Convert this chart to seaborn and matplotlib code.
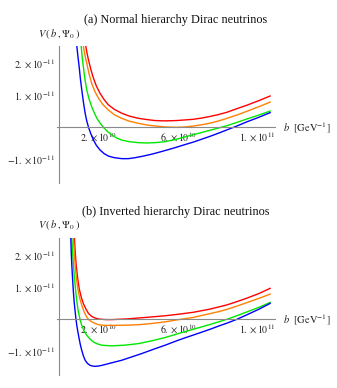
import matplotlib
matplotlib.use('Agg')
import matplotlib.pyplot as plt
import numpy as np
import pandas as pd
import seaborn as sns

sns.set_style('white')
plt.rcParams['font.family'] = ['Liberation Serif', 'DejaVu Serif']
plt.rcParams['mathtext.fontset'] = 'stix'

# b in units of 1e10 GeV^-1, V in units of 1e-11
# (a) normal hierarchy
red_a_b = [1.36, 1.43, 1.50, 1.62, 1.75, 1.90, 2.08, 2.28, 2.50, 2.80, 3.17, 3.55, 4.01, 4.45, 4.85,
           5.35, 5.90, 6.35, 6.78, 7.20, 7.62, 8.05, 8.46, 8.95, 9.46, 10.05, 10.64]
red_a_v = [2.54, 2.30, 2.10, 1.80, 1.53, 1.28, 1.06, 0.87, 0.70, 0.56, 0.44, 0.35, 0.28, 0.24, 0.21,
           0.20, 0.21, 0.23, 0.25, 0.29, 0.34, 0.40, 0.47, 0.58, 0.69, 0.83, 0.98]
orange_a_b = [1.24, 1.32, 1.41, 1.53, 1.66, 1.82, 2.00, 2.22, 2.50, 2.80, 3.17, 3.55, 4.01, 4.45, 4.85,
              5.35, 5.94, 6.35, 6.78, 7.20, 7.62, 8.05, 8.46, 8.95, 9.46, 10.05, 10.64]
orange_a_v = [2.54, 2.25, 2.00, 1.66, 1.37, 1.12, 0.91, 0.71, 0.54, 0.39, 0.28, 0.19, 0.125, 0.07, 0.04,
              0.01, 0.0, 0.01, 0.04, 0.08, 0.13, 0.20, 0.28, 0.38, 0.50, 0.64, 0.79]
green_a_b = [1.13, 1.18, 1.24, 1.32, 1.41, 1.53, 1.66, 1.79, 1.92, 2.08, 2.25, 2.45, 2.67, 2.90, 3.17,
             3.55, 4.01, 4.45, 4.85, 5.35, 5.94, 6.35, 6.78, 7.20, 7.62, 8.05, 8.46, 8.95, 9.46, 10.05, 10.64]
green_a_v = [2.54, 2.20, 1.89, 1.50, 1.17, 0.88, 0.64, 0.45, 0.28, 0.13, 0.0, -0.13, -0.24, -0.33, -0.40,
             -0.45, -0.48, -0.49, -0.48, -0.45, -0.37, -0.30, -0.23, -0.16, -0.09, -0.02, 0.05, 0.15, 0.26, 0.38, 0.51]
blue_a_b = [0.91, 0.97, 1.03, 1.09, 1.16, 1.24, 1.33, 1.41, 1.50, 1.62, 1.75, 1.90, 2.08, 2.28, 2.50,
            2.80, 3.17, 3.50, 3.84, 4.25, 4.68, 5.10, 5.50, 5.94, 6.35, 6.78, 7.20, 7.62, 8.05, 8.46,
            8.96, 9.46, 10.05, 10.64]
blue_a_v = [2.54, 2.20, 1.89, 1.52, 1.17, 0.80, 0.44, 0.20, 0.0, -0.21, -0.40, -0.57, -0.71, -0.82, -0.90,
            -0.95, -0.98, -0.98, -0.95, -0.90, -0.84, -0.77, -0.70, -0.62, -0.54, -0.46, -0.37, -0.28, -0.18, -0.08,
            0.04, 0.17, 0.31, 0.46]

# (b) inverted hierarchy
red_b_b = [0.79, 0.83, 0.88, 0.95, 1.03, 1.13, 1.24, 1.37, 1.50, 1.66, 1.83, 2.00, 2.17, 2.40, 2.67,
           3.00, 3.40, 4.01, 4.60, 5.35, 6.05, 6.78, 7.62, 8.46, 8.95, 9.46, 10.05, 10.64]
red_b_v = [2.54, 2.10, 1.69, 1.30, 0.96, 0.70, 0.49, 0.32, 0.18, 0.09, 0.04, 0.01, 0.0, -0.01, -0.01,
           0.0, 0.01, 0.04, 0.07, 0.11, 0.16, 0.22, 0.32, 0.45, 0.55, 0.66, 0.80, 0.97]
orange_b_b = [0.74, 0.78, 0.83, 0.89, 0.96, 1.05, 1.16, 1.28, 1.41, 1.53, 1.66, 1.83, 2.00, 2.30, 2.67,
              3.30, 4.01, 4.70, 5.35, 5.94, 6.35, 6.78, 7.20, 7.62, 8.05, 8.46, 8.95, 9.46, 10.05, 10.64]
orange_b_v = [2.54, 2.10, 1.69, 1.30, 0.96, 0.68, 0.44, 0.23, 0.07, -0.02, -0.08, -0.13, -0.17, -0.19, -0.19,
              -0.185, -0.17, -0.13, -0.08, -0.02, 0.02, 0.06, 0.12, 0.18, 0.24, 0.31, 0.41, 0.52, 0.65, 0.79]
green_b_b = [0.66, 0.70, 0.74, 0.80, 0.86, 0.92, 0.99, 1.07, 1.16, 1.28, 1.41, 1.58, 1.75, 1.95, 2.17,
             2.40, 2.67, 3.30, 4.01, 4.70, 5.35, 5.94, 6.78, 7.62, 8.46, 8.95, 9.46, 10.05, 10.64]
green_b_v = [2.54, 2.10, 1.69, 1.25, 0.85, 0.52, 0.23, 0.0, -0.19, -0.37, -0.50, -0.62, -0.71, -0.77, -0.81,
             -0.82, -0.83, -0.81, -0.76, -0.67, -0.57, -0.46, -0.31, -0.16, 0.0, 0.11, 0.23, 0.37, 0.53]
blue_b_b = [0.61, 0.63, 0.66, 0.70, 0.74, 0.78, 0.83, 0.87, 0.91, 0.97, 1.03, 1.09, 1.16, 1.24, 1.33,
            1.45, 1.58, 1.70, 1.83, 2.00, 2.17, 2.60, 3.17, 3.65, 4.18, 4.75, 5.35, 5.94, 6.35, 6.78,
            7.20, 7.62, 8.05, 8.46, 8.96, 9.46, 10.05, 10.64]
blue_b_v = [2.54, 2.10, 1.69, 1.25, 0.85, 0.53, 0.23, 0.0, -0.19, -0.41, -0.61, -0.80, -0.97, -1.14, -1.28,
            -1.38, -1.44, -1.46, -1.47, -1.46, -1.44, -1.37, -1.28, -1.18, -1.07, -0.94, -0.81, -0.67, -0.58, -0.49,
            -0.40, -0.31, -0.21, -0.12, 0.0, 0.14, 0.31, 0.50]

x_ticks = [2, 6, 10]
x_ticklabels = [r'$2.\times10^{10}$', r'$6.\times10^{10}$', r'$1.\times10^{11}$']
y_ticks = [-1, 1, 2]
y_ticklabels = [r'$-1.\times10^{-11}$', r'$1.\times10^{-11}$', r'$2.\times10^{-11}$']

titles = ['(a) Normal hierarchy Dirac neutrinos', '(b) Inverted hierarchy Dirac neutrinos']
colors = {'red': '#FF0000', 'orange': '#FF8000', 'green': '#00E800', 'blue': '#0000FF'}
axis_gray = '#8a8a8a'

W, H = 337, 388
fig = plt.figure(figsize=(W / 100, H / 100), dpi=100)

panels = [
    [(red_a_b, red_a_v, 'red'), (orange_a_b, orange_a_v, 'orange'),
     (green_a_b, green_a_v, 'green'), (blue_a_b, blue_a_v, 'blue')],
    [(red_b_b, red_b_v, 'red'), (orange_b_b, orange_b_v, 'orange'),
     (green_b_b, green_b_v, 'green'), (blue_b_b, blue_b_v, 'blue')],
]
# pixel layout: top of axes, title y, ylabel y
tops = [46, 238]
title_y = [20, 212]
ylab_y = [34, 225]

for i, curves in enumerate(panels):
    top = tops[i]
    bottom = top + 137.3
    ax = fig.add_axes([56.7 / W, 1 - bottom / H, (274.5 - 56.7) / W, (bottom - top) / H])
    for b, v, c in curves:
        df = pd.DataFrame({'b': b, 'V': v})
        sns.lineplot(data=df, x='b', y='V', color=colors[c], lw=1.0, estimator=None, ax=ax)
    ax.set_xlim(-0.1, 10.85)
    ax.set_ylim(-1.75, 2.54)
    for s in ['top', 'right']:
        ax.spines[s].set_visible(False)
    ax.spines['left'].set_position(('data', 0))
    ax.spines['bottom'].set_position(('data', 0))
    for s in ['left', 'bottom']:
        ax.spines[s].set_color(axis_gray)
        ax.spines[s].set_linewidth(0.8)
    ax.set_xticks(x_ticks)
    ax.set_xticklabels(x_ticklabels)
    ax.set_yticks(y_ticks)
    ax.set_yticklabels(y_ticklabels)
    ax.tick_params(axis='both', direction='in', length=3, width=0.7, color=axis_gray,
                   labelsize=7.1, labelcolor='#222222', pad=2.5)
    ax.set_xlabel('')
    ax.set_ylabel('')
    ax.patch.set_alpha(0)

    fig.text(175.5 / W, 1 - title_y[i] / H, titles[i], ha='center', va='center',
             fontsize=8.8, color='#111111')
    fig.text(38 / W, 1 - ylab_y[i] / H, r'$V\,(\,b\;,\Psi_0\,)$', ha='left', va='center',
             fontsize=7.6, color='#222222')
    fig.text(283 / W, 1 - (top + 81.3) / H, r'$b\ \ [\mathrm{GeV}^{-1}]$', ha='left', va='center',
             fontsize=7.6, color='#222222')

fig.savefig('out.png', dpi=100)
